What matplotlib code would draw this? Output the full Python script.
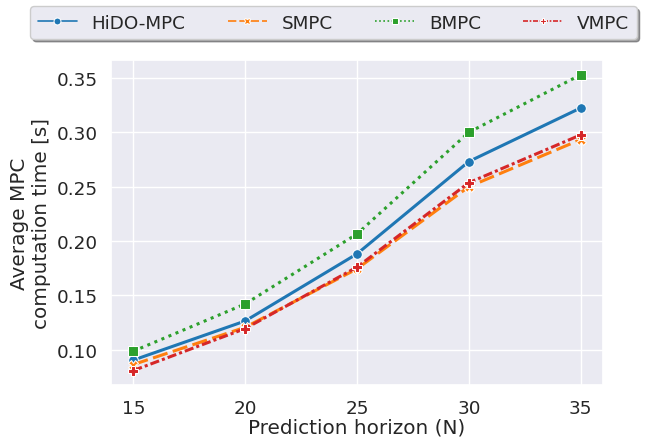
import numpy as np
import pandas as pd
import matplotlib
matplotlib.use("Agg")
import matplotlib.pyplot as plt
import seaborn as sns

horizons = [15, 20, 25, 30, 35]
hido_mpc = [0.0903, 0.1263, 0.1881, 0.2731, 0.3224]
smpc = [0.0862, 0.1205, 0.1743, 0.2499, 0.2933]
bmpc = [0.0985, 0.1420, 0.2064, 0.3000, 0.3529]
vmpc = [0.0807, 0.1193, 0.1759, 0.2536, 0.2976]
methods = ["HiDO-MPC", "SMPC", "BMPC", "VMPC"]

sns.set(style="darkgrid", font_scale=1.2, palette="tab10")

rows = []
for name, vals in zip(methods, [hido_mpc, smpc, bmpc, vmpc]):
    for n, v in zip(horizons, vals):
        rows.append({"N": n, "time": v, "method": name})
df = pd.DataFrame(rows)

fig, ax = plt.subplots(figsize=(6.45, 4.39), dpi=100)
sns.lineplot(data=df, x="N", y="time", hue="method", style="method",
             markers=["o", "X", "s", "P"],
             dashes=["", (5, 1.8), (1, 1.5), (3, 1, 1, 1)],
             linewidth=2.2, markersize=7, ax=ax)

ax.set_xticks(horizons)
ax.tick_params(axis="x", pad=4)
ax.set_xlabel("Prediction horizon (N)", labelpad=0)
ax.set_ylabel("Average MPC\ncomputation time [s]")

# legend sits above the axes, spanning nearly the full width
handles, labels = ax.get_legend_handles_labels()
for h in handles:
    h.set_linewidth(1.2)
    h.set_markersize(5)
ax.legend(handles, labels, ncol=4, loc="lower center",
          bbox_to_anchor=(333.5 / 645, 1 - 40 / 439), bbox_transform=fig.transFigure,
          frameon=True, shadow=True, fontsize=13.2, handlelength=2.15,
          columnspacing=2.3, borderaxespad=0)

plt.subplots_adjust(left=0.172, right=0.935, top=0.861, bottom=0.12)
plt.savefig("out.png")
